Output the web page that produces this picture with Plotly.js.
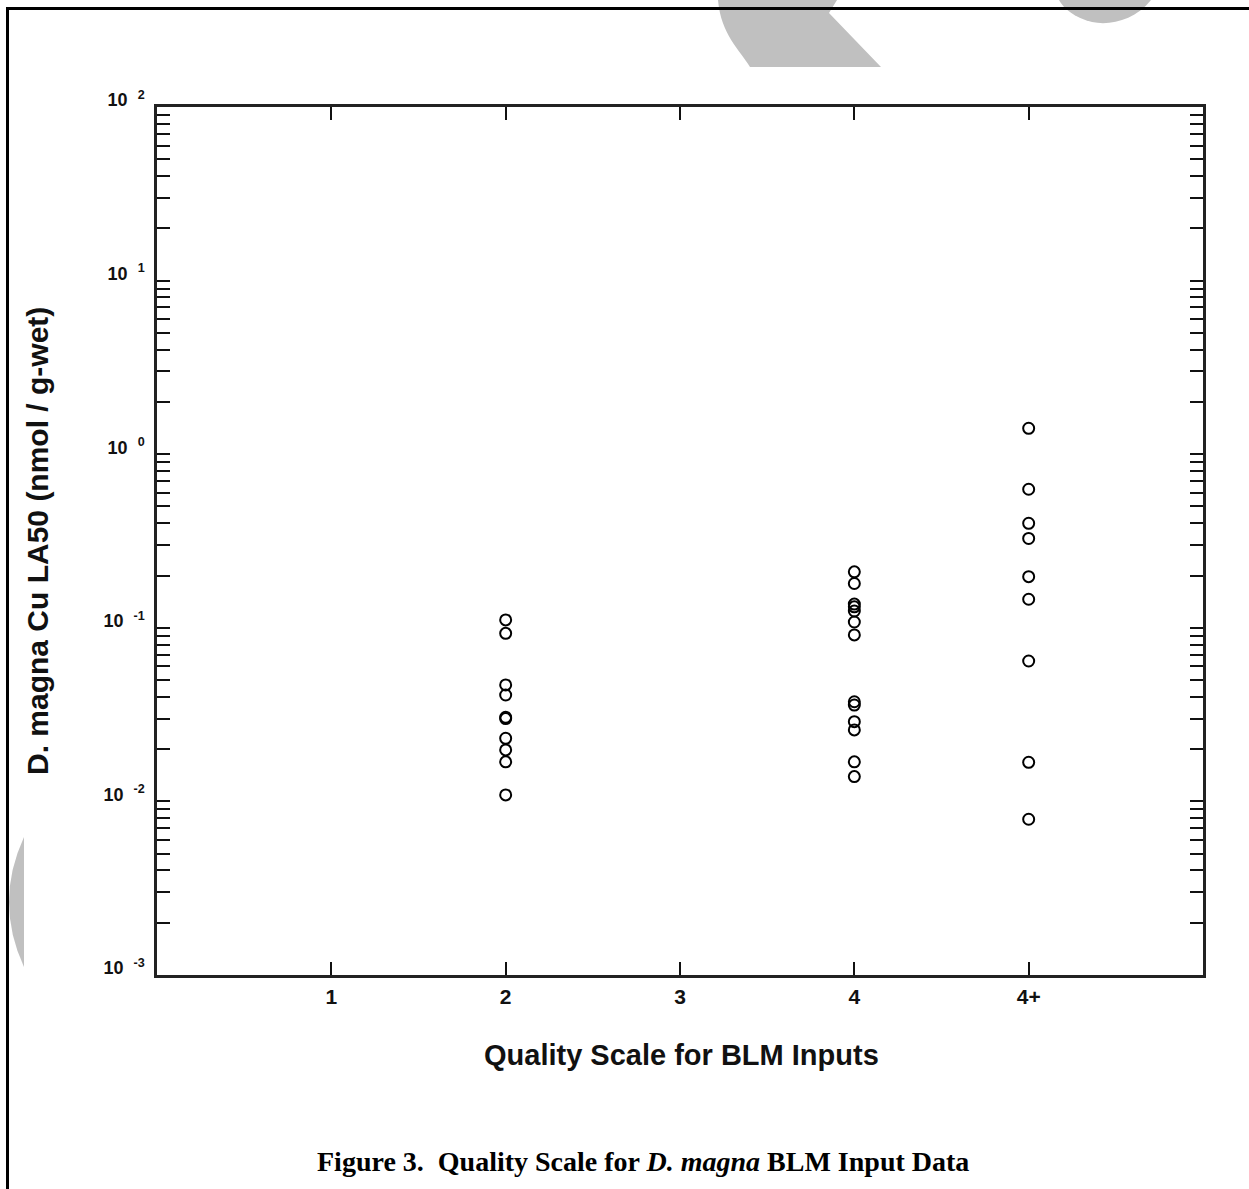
<!DOCTYPE html>
<html><head><meta charset="utf-8">
<script src="https://cdn.plot.ly/plotly-3.0.1.min.js"></script>
<style>html,body{margin:0;padding:0;background:#fff}#chart{width:1249px;height:1189px}</style>
</head><body><div id="chart"></div>
<script>
// ---- data ----
const categories = ['1', '2', '3', '4', '4+'];
const q2Values = [0.111, 0.0929, 0.0469, 0.0410, 0.0305, 0.0300, 0.0231, 0.0198, 0.0169, 0.0109];
const q4Values = [0.210, 0.180, 0.137, 0.132, 0.125, 0.108, 0.091, 0.0375, 0.0359, 0.0288, 0.0258, 0.0169, 0.0139];
const q4plusValues = [1.41, 0.628, 0.400, 0.327, 0.197, 0.146, 0.0644, 0.0168, 0.00789];
const decadeExponents = [-3, -2, -1, 0, 1, 2];
const minorMultipliers = [1, 2, 3, 4, 5, 6, 7, 8, 9];

// ---- y ticks (decades labelled, minors unlabelled) ----
const tickvals = [], ticktext = [];
decadeExponents.forEach(function (e, i) {
  const mults = (i === decadeExponents.length - 1) ? [1] : minorMultipliers;
  mults.forEach(function (m) {
    tickvals.push(m * Math.pow(10, e));
    ticktext.push(m === 1 ? '10\u00a0\u00a0<sup>' + e + '</sup>' : '');
  });
});

const SANS = 'Liberation Sans, Arial, Helvetica, sans-serif';
const SERIF = 'Liberation Serif, Times New Roman, serif';

function series(cat, vals) {
  return {
    type: 'scatter', mode: 'markers',
    x: vals.map(function () { return cat; }), y: vals,
    marker: { symbol: 'circle-open', size: 11, color: '#000', line: { width: 2, color: '#000' } },
    hoverinfo: 'x+y', showlegend: false
  };
}
const data = [series('2', q2Values), series('4', q4Values), series('4+', q4plusValues)];

// ---- page decoration geometry (pixels -> paper) ----
const L = 157, R = 1203, T = 107, B = 975;
function X(p) { return (p - L) / (R - L); }
function Y(p) { return (B - p) / (B - T); }
function P(x, y) { return X(x).toFixed(5) + ',' + Y(y).toFixed(5); }

const gray = '#c0c0c0';
const shapes = [
  { type: 'path', xref: 'paper', yref: 'paper', layer: 'below', fillcolor: gray, line: { width: 0 },
    path: 'M' + P(718, 0) + ' L' + P(837, 0) + ' L' + P(829, 13) + ' L' + P(881, 67) + ' L' + P(750, 67) +
          ' C' + P(740, 50) + ' ' + P(721, 35) + ' ' + P(718, 0) + ' Z' },
  { type: 'path', xref: 'paper', yref: 'paper', layer: 'below', fillcolor: gray, line: { width: 0 },
    path: 'M' + P(1059, 0) + ' L' + P(1151, 0) + ' C' + P(1135, 20) + ' ' + P(1110, 26) + ' ' + P(1092, 22) +
          ' C' + P(1075, 18) + ' ' + P(1063, 8) + ' ' + P(1059, 0) + ' Z' },
  { type: 'path', xref: 'paper', yref: 'paper', layer: 'below', fillcolor: gray, line: { width: 0 },
    path: 'M' + P(24, 837) + ' Q' + P(-6, 902) + ' ' + P(24, 967) + ' Z' },
  { type: 'line', xref: 'paper', yref: 'paper', x0: X(6), x1: X(1249), y0: Y(8.5), y1: Y(8.5), line: { color: '#000', width: 3 } },
  { type: 'line', xref: 'paper', yref: 'paper', x0: X(7.5), x1: X(7.5), y0: Y(7), y1: Y(1189), line: { color: '#000', width: 3 } }
];

const annotations = [
  { xref: 'paper', yref: 'paper', x: X(37), y: Y(541), xanchor: 'center', yanchor: 'middle', textangle: -90, showarrow: false,
    text: 'D. magna Cu LA50 (nmol / g-wet)', font: { family: SANS, size: 30, weight: 'bold', color: '#111' } },
  { xref: 'paper', yref: 'paper', x: X(681), y: Y(1055), xanchor: 'center', yanchor: 'middle', showarrow: false,
    text: 'Quality Scale for BLM Inputs', font: { family: SANS, size: 29, weight: 'bold', color: '#111' } },
  { xref: 'paper', yref: 'paper', x: X(643), y: Y(1161), xanchor: 'center', yanchor: 'middle', showarrow: false,
    text: 'Figure 3.\u00a0 Quality Scale for <i>D. magna</i> BLM Input Data', font: { family: SERIF, size: 28, weight: 'bold', color: '#000' } }
];

const layout = {
  width: 1249, height: 1189,
  margin: { l: L, r: 1249 - R, t: T, b: 1189 - B, pad: 0 },
  paper_bgcolor: '#fff', plot_bgcolor: '#fff',
  showlegend: false,
  xaxis: {
    type: 'category', categoryorder: 'array', categoryarray: categories, range: [-1, 5],
    showline: true, linecolor: '#222', linewidth: 2.5, mirror: 'ticks',
    ticks: 'inside', ticklen: 13, tickwidth: 2, tickcolor: '#111',
    tickfont: { family: SANS, size: 21, weight: 'bold', color: '#111' }, ticklabelstandoff: 1,
    showgrid: false, zeroline: false, fixedrange: true
  },
  yaxis: {
    type: 'log', range: [-3, 2], tickmode: 'array', tickvals: tickvals, ticktext: ticktext,
    showline: true, linecolor: '#222', linewidth: 2.5, mirror: 'ticks',
    ticks: 'inside', ticklen: 13, tickwidth: 2, tickcolor: '#111',
    tickfont: { family: SANS, size: 18, weight: 'bold', color: '#111' }, ticklabelshift: -7, ticklabelstandoff: 6,
    showgrid: false, zeroline: false, fixedrange: true
  },
  shapes: shapes,
  annotations: annotations
};

Plotly.newPlot('chart', data, layout, { displayModeBar: false });
</script>
</body></html>
